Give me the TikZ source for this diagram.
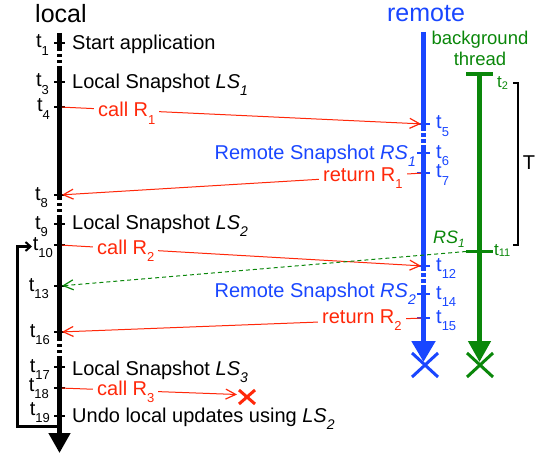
\documentclass[tikz,border=0pt]{standalone}
\usepackage{fontspec}
\setmainfont{Liberation Sans}
\usetikzlibrary{arrows.meta}
\definecolor{myblue}{RGB}{25,70,255}
\definecolor{myred}{RGB}{255,40,10}
\definecolor{mygreen}{RGB}{10,135,10}
\newcommand{\tsub}[1]{\raisebox{-7.5pt}{\fontsize{13}{13}\selectfont #1}}
\newcommand{\gsub}[1]{\raisebox{-1.5pt}{\fontsize{11}{11}\selectfont #1}}
\newcommand{\esub}[1]{\raisebox{-7pt}{\fontsize{14}{14}\selectfont\itshape #1}}
\begin{document}
\begin{tikzpicture}[x=1pt,y=-1pt,
  txt/.style={inner sep=0pt, font=\fontsize{20}{24}\selectfont},
  tlab/.style={txt, anchor=base east},
  rlab/.style={txt, anchor=base west, text=myblue},
  glab/.style={inner sep=0pt, anchor=base west, text=mygreen, font=\fontsize{17}{20}\selectfont},
  ev/.style={txt, anchor=base west},
  tickmark/.style={line width=2pt},
  lline/.style={line width=4.5pt, black},
  bline/.style={line width=5pt, myblue},
  gline/.style={line width=4.5pt, mygreen},
  ldash/.style={lline, dash pattern=on 3pt off 3pt},
  bdash/.style={bline, dash pattern=on 4pt off 2pt},
  msg/.style={line width=1pt, myred, shorten <=2.5pt, shorten >=2.5pt,
     -{Straight Barb[length=10pt,width=10pt,line width=1.2pt]}},
  msglab/.style={txt, anchor=base west, text=myred, fill=white, inner xsep=4pt, inner ysep=2pt},
  crossline/.style={line width=3pt},
]
\useasboundingbox (0,0) rectangle (540,457);

% ---- coordinates: local line
\coordinate (l1) at (59.5,43);
\coordinate (l3) at (59.5,82);
\coordinate (l4) at (59.5,107);
\coordinate (l8) at (59.5,195);
\coordinate (l9) at (59.5,224);
\coordinate (l10) at (59.5,245);
\coordinate (l13) at (59.5,286);
\coordinate (l16) at (59.5,332);
\coordinate (l17) at (59.5,367);
\coordinate (l18) at (59.5,388);
\coordinate (l19) at (59.5,416);
% remote line
\coordinate (r5) at (423.5,124);
\coordinate (r6) at (423.5,153);
\coordinate (r7) at (423.5,173);
\coordinate (r12) at (423.5,266);
\coordinate (r14) at (423.5,294);
\coordinate (r15) at (423.5,318);
% green thread
\coordinate (g2) at (479.5,74);
\coordinate (g11) at (479.5,251);
\coordinate (g11l) at (466,251.5);
\coordinate (fail) at (247,397);
\coordinate (failtip) at (237,394.5);

% ---- local line
\draw[lline] (59.5,33) -- (59.5,51);
\draw[ldash] (59.5,54) -- (59.5,63);
\draw[lline] (59.5,66) -- (59.5,200);
\draw[ldash] (59.5,203) -- (59.5,212);
\draw[lline] (59.5,215) -- (59.5,341);
\draw[ldash] (59.5,344) -- (59.5,353);
\draw[lline, -{Triangle[width=21pt,length=20pt]}] (59.5,356) -- (59.5,453);

% ---- remote line
\draw[bline] (423.5,32) -- (423.5,131);
\draw[bdash] (423.5,133) -- (423.5,143);
\draw[bline] (423.5,145) -- (423.5,271);
\draw[bdash] (423.5,273) -- (423.5,283);
\draw[bline, -{Triangle[width=23pt,length=21pt]}] (423.5,285) -- (423.5,362);
\draw[myblue, crossline] (412,353) -- (438,377);
\draw[myblue, crossline] (412,377) -- (438,353);

% ---- green thread
\draw[gline, -{Triangle[width=22pt,length=21pt]}] (g2) -- (479.5,362);
\draw[mygreen, line width=3.5pt] (466,74) -- (493,74);
\draw[mygreen, line width=3pt] (466,251) -- (493,251);
\draw[mygreen, crossline] (467,353) -- (493,377);
\draw[mygreen, crossline] (467,377) -- (493,353);

% ---- ticks
\foreach \c in {l1,l3,l4,l8,l9,l10,l13,l16,l17,l18,l19}
  \draw[tickmark] ([xshift=-5.5pt]\c) -- ([xshift=5.5pt]\c);
\foreach \c in {r5,r6,r7,r12,r14,r15}
  \draw[tickmark, myblue] ([xshift=-6.5pt]\c) -- ([xshift=6.5pt]\c);

% ---- loop
\coordinate (lp1) at (59.5,426.5);
\coordinate (lp2) at (17.5,426.5);
\coordinate (lp3) at (17.5,246.5);
\coordinate (lp4) at (32,246.5);
\draw[line width=3pt, -{Straight Barb[length=5pt,width=9pt,line width=2pt]}]
  (lp1) -- (lp2) -- (lp3) -- (lp4);

% ---- bracket T
\coordinate (br1) at (513,83);
\coordinate (br2) at (518,83);
\coordinate (br3) at (518,245);
\coordinate (br4) at (513,245);
\draw[line width=2.5pt] (br1) -- (br2) -- (br3) -- (br4);
\node[txt] (Tlab) at (529,163) {T};

% ---- messages
\draw[msg] (l4) -- (r5);
\draw[msg] (r7) -- (l8);
\draw[msg] (l10) -- (r12);
\draw[msg] (r15) -- (l16);
\draw[line width=1pt, myred, shorten <=2.5pt,
     -{Straight Barb[length=10pt,width=10pt,line width=1.2pt]}] (l18) -- (failtip);
\draw[myred, crossline] ([shift={(-8,-7)}]fail) -- ([shift={(8,7)}]fail);
\draw[myred, crossline] ([shift={(-8,7)}]fail) -- ([shift={(8,-7)}]fail);
\draw[mygreen, line width=1pt, dash pattern=on 4pt off 3pt, shorten >=2.5pt,
     -{Straight Barb[length=10pt,width=10pt,line width=1.2pt]}] (g11l) -- (l13);

\node[msglab] (m1) at (94,117) {call R\tsub{1}};
\node[msglab] (m2) at (319,181) {return R\tsub{1}};
\node[msglab] (m3) at (93,254) {call R\tsub{2}};
\node[msglab] (m4) at (318,323) {return R\tsub{2}};
\node[msglab] (m5) at (93,395) {call R\tsub{3}};

% ---- titles
\node[inner sep=0pt, anchor=base west, font=\fontsize{25}{30}\selectfont] (local) at (35,23) {local};
\node[inner sep=0pt, anchor=base, text=myblue, font=\fontsize{25}{30}\selectfont] (remote) at (426,22) {remote};
\node[inner sep=0pt, anchor=base, text=mygreen, font=\fontsize{18.5}{22}\selectfont] (bg1) at (480,45) {background};
\node[inner sep=0pt, anchor=base, text=mygreen, font=\fontsize{18.5}{22}\selectfont] (bg2) at (480,66) {thread};

% ---- local time labels
\node[tlab] (tl1) at (49,48) {t\tsub{1}};
\node[tlab] (tl3) at (49,87) {t\tsub{3}};
\node[tlab] (tl4) at (50,112) {t\tsub{4}};
\node[tlab] (tl8) at (48,200) {t\tsub{8}};
\node[tlab] (tl9) at (48,229) {t\tsub{9}};
\node[tlab] (tl10) at (53,250) {t\tsub{10}};
\node[tlab] (tl13) at (49,291) {t\tsub{13}};
\node[tlab] (tl16) at (50,337) {t\tsub{16}};
\node[tlab] (tl17) at (50,372) {t\tsub{17}};
\node[tlab] (tl18) at (49,391) {t\tsub{18}};
\node[tlab] (tl19) at (50,415) {t\tsub{19}};

% ---- remote time labels
\node[rlab] (tr5) at (436,129) {t\tsub{5}};
\node[rlab] (tr6) at (436,158) {t\tsub{6}};
\node[rlab] (tr7) at (436,178) {t\tsub{7}};
\node[rlab] (tr12) at (436,271) {t\tsub{12}};
\node[rlab] (tr14) at (436,299) {t\tsub{14}};
\node[rlab] (tr15) at (436,323) {t\tsub{15}};

% ---- green labels
\node[glab] (tg2) at (497,88) {t\gsub{2}};
\node[glab] (tg11) at (494,255) {t\gsub{11}};
\node[inner sep=0pt, anchor=base west, text=mygreen, font=\fontsize{18}{22}\selectfont] (rs1g) at (433,243)
  {\textit{RS}\raisebox{-4pt}{\fontsize{12}{12}\selectfont\itshape 1}};

% ---- event texts
\node[ev] (e1) at (72,50) {Start application};
\node[ev] (e3) at (72,89) {Local Snapshot \textit{LS}\esub{1}};
\node[ev] (e9) at (72,229) {Local Snapshot \textit{LS}\esub{2}};
\node[ev] (e17) at (72,375) {Local Snapshot \textit{LS}\esub{3}};
\node[ev] (e19) at (72,422) {Undo local updates using \textit{LS}\esub{2}};
\node[txt, anchor=base east, text=myblue] (rs1) at (416,160) {Remote Snapshot \textit{RS}\esub{1}};
\node[txt, anchor=base east, text=myblue] (rs2) at (416,297) {Remote Snapshot \textit{RS}\esub{2}};
\end{tikzpicture}
\end{document}
